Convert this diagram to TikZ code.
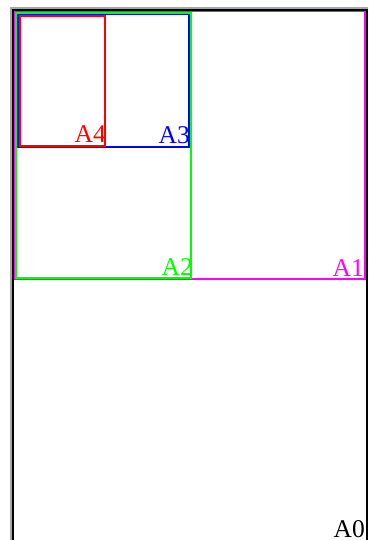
\documentclass[tikz,border=0pt]{standalone}
\usepackage{fontspec}
\setmainfont{Liberation Serif}
\definecolor{pmag}{RGB}{255,0,255}
\definecolor{pgreen}{RGB}{0,255,0}
\definecolor{pblue}{RGB}{0,0,255}
\definecolor{pred}{RGB}{255,0,0}
\begin{document}
\begin{tikzpicture}[x=1pt,y=-1pt,
  sheet/.style={line width=1.8pt},
  lbl/.style={anchor=base east,inner sep=0pt,font=\fontsize{25.5}{25.5}\selectfont}]
\useasboundingbox (0,0) rectangle (368,540);
\clip (0,0) rectangle (368,540);
\draw[sheet,gray!70] (11,8) rectangle (372,552);
\draw[sheet,black] (13,10) rectangle (367,546);
\draw[sheet,pmag] (14.5,11.5) rectangle (365,279);
\draw[sheet,pgreen] (16,13) rectangle (191,278);
\draw[sheet,pblue] (18,14.5) rectangle (189,147);
\draw[sheet,pred] (20,16) rectangle (105,146);
\node[lbl,pred] (a4) at (106,143) {A4};
\node[lbl,pblue] (a3) at (190,143.5) {A3};
\node[lbl,pgreen] (a2) at (193,275.5) {A2};
\node[lbl,pmag] (a1) at (364,276) {A1};
\node[lbl,black] (a0) at (365,537) {A0};
\end{tikzpicture}
\end{document}
